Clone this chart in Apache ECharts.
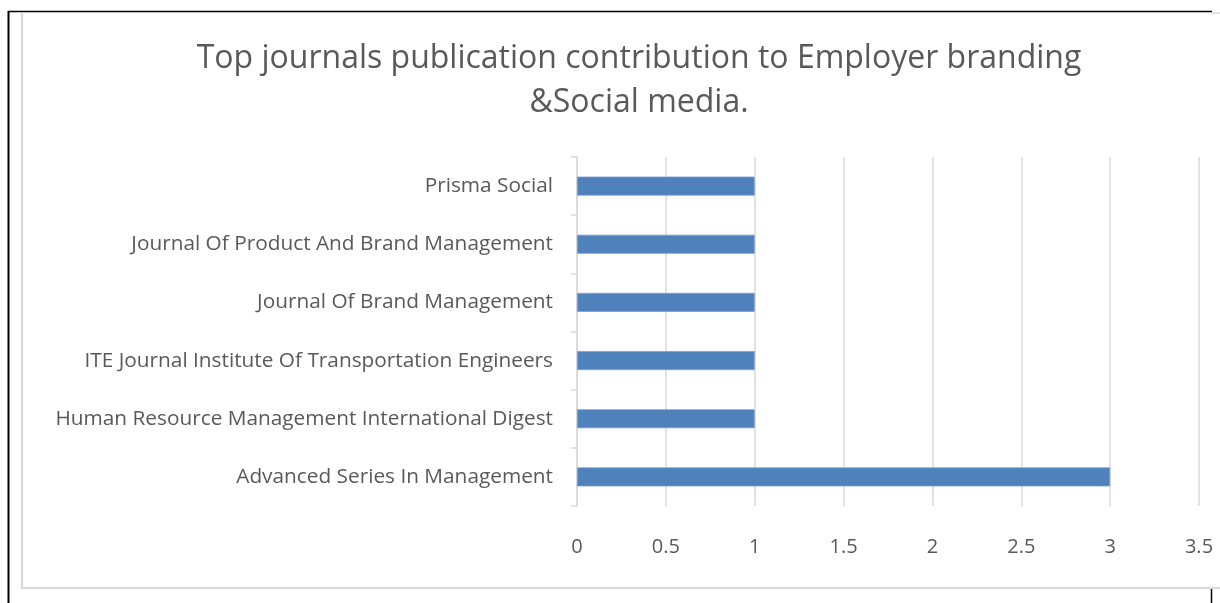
<!DOCTYPE html>
<html><head><meta charset="utf-8">
<script src="https://cdn.jsdelivr.net/npm/echarts@6/dist/echarts.min.js"></script>
<style>html,body{margin:0;padding:0;background:#fff}#c{width:1220px;height:603px}</style>
</head><body><div id="c"></div>
<script>
const titleText = 'Top journals publication contribution to Employer branding\n&Social media.';
const categories = [
  'Advanced Series In Management',
  'Human Resource Management International Digest',
  'ITE Journal Institute Of Transportation Engineers',
  'Journal Of Brand Management',
  'Journal Of Product And Brand Management',
  'Prisma Social'
];
const values = [3, 1, 1, 1, 1, 1];
const xTicks = { min: 0, max: 3.5, interval: 0.5 };

const chart = echarts.init(document.getElementById('c'), null, {renderer: 'canvas'});
const txt = '#595959';
chart.setOption({
  animation: false,
  backgroundColor: '#fff',
  title: {
    text: titleText, left: 634, top: 32, textAlign: 'center',
    textStyle: { fontFamily: 'Open Sans', fontSize: 32, fontWeight: 'normal', color: txt, lineHeight: 44 }
  },
  grid: { left: 577, right: 21, top: 157, bottom: 97, containLabel: false },
  xAxis: {
    type: 'value', min: xTicks.min, max: xTicks.max, interval: xTicks.interval,
    axisLine: { show: false }, axisTick: { show: false },
    splitLine: { show: true, lineStyle: { color: '#d9d9d9', width: 1.5 } },
    axisLabel: { color: txt, fontFamily: 'Open Sans', fontSize: 20, margin: 31 }
  },
  yAxis: {
    type: 'category', data: categories,
    axisLine: { show: true, lineStyle: { color: '#d9d9d9', width: 1.5 } },
    axisTick: { show: true, length: 6, lineStyle: { color: '#d9d9d9', width: 1.5 } },
    axisLabel: { color: txt, fontFamily: 'Open Sans', fontSize: 20.8, margin: 24 }
  },
  series: [{
    type: 'bar', data: values, barWidth: 19,
    itemStyle: { color: '#4f81bd', borderColor: '#7aa0d0', borderWidth: 0.8 }
  }],
  graphic: [
    { type: 'line', shape: { x1: 8, y1: 11.5, x2: 1212, y2: 11.5 }, style: { stroke: '#000', lineWidth: 1.5 }, z: 10 },
    { type: 'line', shape: { x1: 8.5, y1: 11, x2: 8.5, y2: 603 }, style: { stroke: '#000', lineWidth: 2 }, z: 10 },
    { type: 'line', shape: { x1: 1211.5, y1: 589, x2: 1211.5, y2: 603 }, style: { stroke: '#000', lineWidth: 1.5 }, z: 10 },
    { type: 'line', shape: { x1: 22, y1: 13, x2: 22, y2: 588 }, style: { stroke: '#d9d9d9', lineWidth: 2 } },
    { type: 'line', shape: { x1: 21, y1: 588, x2: 1220, y2: 588 }, style: { stroke: '#d9d9d9', lineWidth: 2 } },
    { type: 'line', shape: { x1: 1212, y1: 13, x2: 1220, y2: 13 }, style: { stroke: '#d9d9d9', lineWidth: 1.5 } }
  ]
});
</script></body></html>
